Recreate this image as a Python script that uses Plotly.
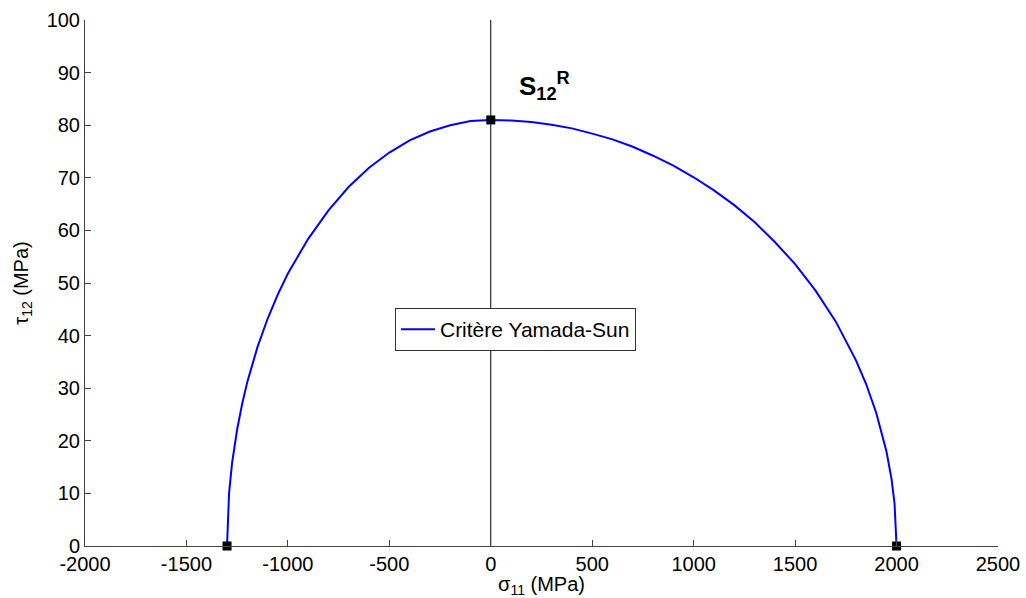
import plotly.graph_objects as go

# Curve points (sigma_11 in MPa, tau_12 in MPa)
sigma = [-1300, -1290, -1275, -1250, -1225, -1200, -1150, -1100, -1050, -1000,
         -900, -800, -700, -600, -500, -400, -300, -200, -100, 0,
         100, 200, 300, 400, 500, 600, 700, 800, 900, 1000,
         1100, 1200, 1300, 1400, 1500, 1600, 1700, 1800, 1850, 1900,
         1950, 1975, 1990, 2000]
tau = [0.0, 10.0, 15.8, 22.2, 27.1, 31.2, 37.8, 43.2, 47.8, 51.8,
       58.4, 63.8, 68.3, 71.9, 74.8, 77.1, 78.8, 80.0, 80.8, 81.0,
       80.9, 80.6, 80.1, 79.4, 78.4, 77.3, 75.9, 74.2, 72.3, 70.1,
       67.6, 64.8, 61.6, 57.8, 53.6, 48.6, 42.7, 35.3, 30.8, 25.3,
       18.0, 12.8, 8.1, 0.0]

# Key points (squares)
key_sigma = [-1300, 0, 2000]
key_tau = [0, 81, 0]

# Vertical reference line at sigma = 0
vline_x = [0, 0]
vline_y = [0, 100]

x_ticks = [-2000, -1500, -1000, -500, 0, 500, 1000, 1500, 2000, 2500]
x_tick_labels = ["-2000", "-1500", "-1000", "-500", "0", "500", "1000", "1500", "2000", "2500"]
y_ticks = [0, 10, 20, 30, 40, 50, 60, 70, 80, 90, 100]
y_tick_labels = [str(v) for v in y_ticks]

FONT = "Liberation Sans, Arial, sans-serif"

fig = go.Figure()
fig.add_trace(go.Scatter(x=vline_x, y=vline_y, mode="lines",
                         line=dict(color="black", width=1), showlegend=False,
                         hoverinfo="skip"))
fig.add_trace(go.Scatter(x=sigma, y=tau, mode="lines", name="Critère Yamada-Sun",
                         line=dict(color="#0000ff", width=2)))
fig.add_trace(go.Scatter(x=key_sigma, y=key_tau, mode="markers", showlegend=False,
                         marker=dict(symbol="square", size=9, color="black"),
                         cliponaxis=False))

fig.add_annotation(x=265, y=87.5, xref="x", yref="y",
                   text="<b>S<sub>12</sub><sup>R</sup></b>", showarrow=False,
                   font=dict(family=FONT, size=26, color="black"))

fig.update_layout(
    width=1026, height=598,
    margin=dict(l=85, r=28, t=20, b=52),
    paper_bgcolor="white", plot_bgcolor="white",
    font=dict(family=FONT, size=20, color="black"),
    legend=dict(x=0.3395, y=0.4525, xanchor="left", yanchor="top",
                bordercolor="#333", borderwidth=1, bgcolor="white",
                itemwidth=34, tracegroupgap=0,
                font=dict(family=FONT, size=21, color="black")),
    xaxis=dict(range=[-2000, 2500], tickvals=x_ticks, ticktext=x_tick_labels,
               ticks="inside", ticklen=6, automargin=False,
               tickcolor="#444", showline=True, linecolor="#444", linewidth=1,
               showgrid=False, zeroline=False,
               tickfont=dict(family=FONT, size=20, color="black"),
               title=dict(text="σ<sub>11</sub> (MPa)", standoff=7,
                          font=dict(family=FONT, size=20))),
    yaxis=dict(range=[0, 100], tickvals=y_ticks, ticktext=y_tick_labels,
               ticks="inside", ticklen=6, automargin=False,
               tickcolor="#444", showline=True, linecolor="#444", linewidth=1,
               showgrid=False, zeroline=False,
               tickfont=dict(family=FONT, size=20, color="black"),
               title=dict(text="τ<sub>12</sub> (MPa)", standoff=12,
                          font=dict(family=FONT, size=20))),
)

fig.write_html("out.html")
